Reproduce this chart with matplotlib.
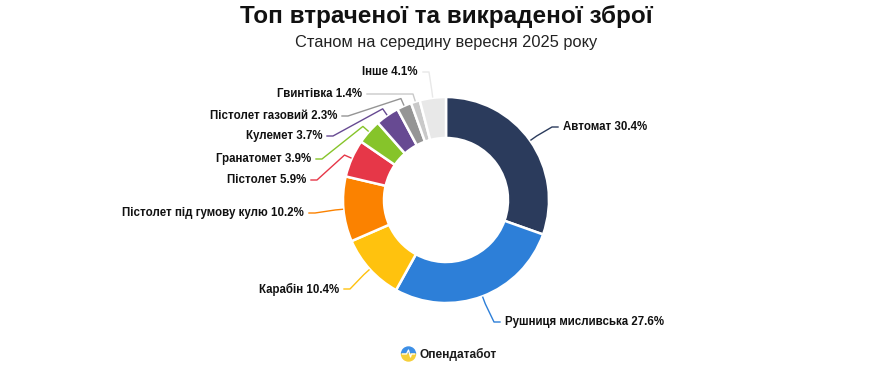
import matplotlib
matplotlib.use("Agg")
import matplotlib.pyplot as plt
import numpy as np
from matplotlib.patches import Wedge

# ── Data ──────────────────────────────────────────────────────────────────────
categories = ["Автомат", "Рушниця мисливська", "Карабін",
              "Пістолет під гумову кулю", "Пістолет", "Гранатомет",
              "Кулемет", "Пістолет газовий", "Гвинтівка", "Інше"]
shares = [30.4, 27.6, 10.4, 10.2, 5.9, 3.9, 3.7, 2.3, 1.4, 4.1]

TITLE    = "Топ втраченої та викраденої зброї"
SUBTITLE = "Станом на середину вересня 2025 року"
BRAND    = "Опендатабот"

# ── Style / layout (pixel space, y measured from the top) ────────────────────
W, H   = 890, 377
CX, CY = 446, 200
R_OUT  = 103
RING   = 41
colors = ["#2b3b5c", "#2d7fd8", "#ffc20e", "#fb8200", "#e63748",
          "#86c42a", "#674a92", "#959595", "#c9c9c9", "#e8e8e8"]
# text anchor of each data label (x, y, horizontal alignment)
label_pos = [(563, 127, "left"), (505, 322, "left"), (339, 289, "right"),
             (304, 213, "right"), (306, 180, "right"), (311, 159, "right"),
             (322, 136, "right"), (337, 116, "right"), (362, 94, "right"),
             (418, 72, "right")]

plt.rcParams["font.family"] = ["Liberation Sans", "DejaVu Sans"]


def py(y):
    """Pixel row (from top) -> data y."""
    return H - y


fig = plt.figure(figsize=(W / 100, H / 100), dpi=100)
ax = fig.add_axes([0, 0, 1, 1])

wedges, _ = ax.pie(
    shares, colors=colors, startangle=90, counterclock=False,
    radius=R_OUT, center=(CX, py(CY)), frame=True,
    wedgeprops=dict(width=RING, edgecolor="white", linewidth=1.8),
)
ax.set_xlim(0, W)
ax.set_ylim(0, H)
ax.set_aspect("equal")
ax.axis("off")


def on_ring(ang, r):
    return CX + r * np.cos(ang), py(CY) + r * np.sin(ang)


# ── Data labels with crooked connectors ──────────────────────────────────────
for w, name, val, col, (lx, ly, ha) in zip(wedges, categories, shares,
                                            colors, label_pos):
    mid = np.deg2rad((w.theta1 + w.theta2) / 2)
    ex, ey = on_ring(mid, R_OUT + 1)
    ox, oy = on_ring(mid, R_OUT + 8)
    ty = py(ly)
    d = 1 if ha == "right" else -1
    sx = lx + d * 5
    kx = sx + d * 6
    if d * (kx - ox) > 0:
        kx = ox
    ax.plot([sx, kx, ox, ex], [ty, ty, oy, ey], color=col, lw=1.0)
    ax.text(lx, ty, f"{name} {val}%", ha=ha, va="center",
            fontsize=8.3, fontweight="bold", color="#111111")

# ── Titles ───────────────────────────────────────────────────────────────────
ax.text(W / 2 + 1, py(17), TITLE, ha="center", va="center",
        fontsize=17.5, fontweight="bold", color="#111111")
ax.text(W / 2 + 1, py(43), SUBTITLE, ha="center", va="center",
        fontsize=11.8, color="#222222")

# ── Brand logo ───────────────────────────────────────────────────────────────
gx, gy, gr = 408.5, py(354), 7
ax.add_patch(Wedge((gx, gy), gr, 0, 180, color="#3d8fe6"))
ax.add_patch(Wedge((gx, gy), gr, 180, 360, color="#f5cf3a"))
ax.plot([gx - 6, gx - 2, gx, gx + 2, gx + 3, gx + 6],
        [gy, gy, gy + 4, gy - 3, gy, gy], color="white", lw=0.9)
ax.text(419, gy, BRAND, ha="left", va="center", fontsize=8.6,
        fontweight="bold", color="#1a1a1a")

fig.savefig("out.png", dpi=100)
